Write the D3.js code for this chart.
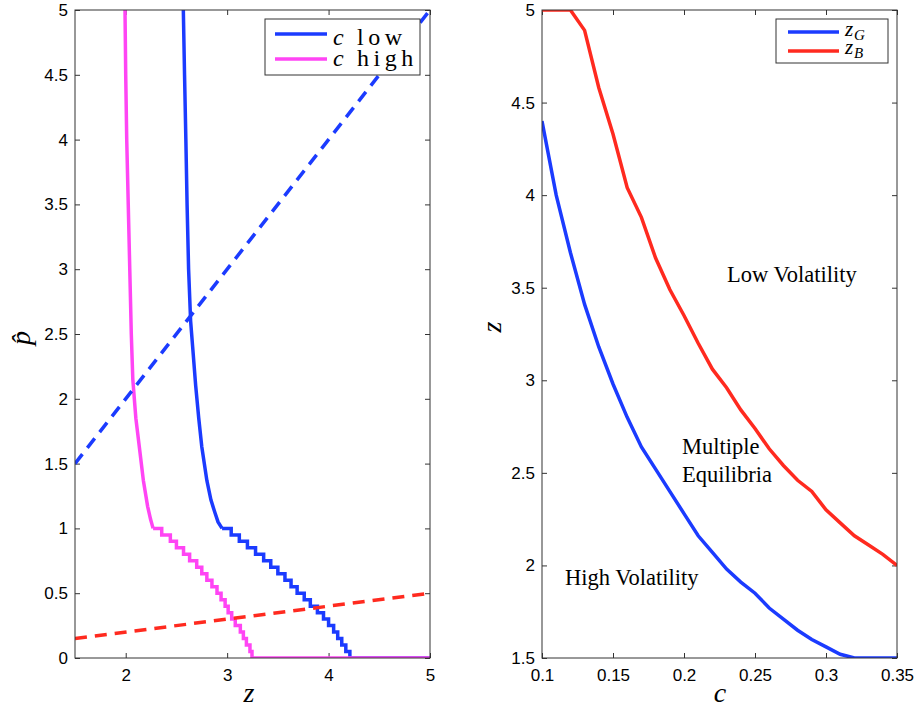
<!DOCTYPE html>
<html>
<head>
<meta charset="utf-8">
<script src="https://cdn.jsdelivr.net/npm/d3@7"></script>
<style>
  body { margin: 0; background: #fff; }
  svg { display: block; }
  .tick text { font-family: "Liberation Sans", Arial, sans-serif; font-size: 17px; fill: #000; }
  .tick line { stroke: #333; }
  .lbl { font-family: "Liberation Serif", "Times New Roman", serif; fill: #000; }
</style>
</head>
<body>
<svg id="chart" width="917" height="708"></svg>
<script>
// ---------------- left panel: p-hat against z
const leftXTicks = [2, 3, 4, 5];
const leftYTicks = [0, 0.5, 1, 1.5, 2, 2.5, 3, 3.5, 4, 4.5, 5];

// smooth upper part of the curves, [z, p]
const cLowSmooth = [[2.568, 5], [2.58, 4.5], [2.593, 4], [2.605, 3.5], [2.62, 3], [2.64, 2.6], [2.66, 2.4],
  [2.69, 2.1], [2.72, 1.85], [2.75, 1.63], [2.8, 1.37], [2.84, 1.22], [2.88, 1.12], [2.91, 1.05], [2.95, 1.0]];
const cHighSmooth = [[1.993, 5], [2.0, 4.5], [2.01, 4], [2.025, 3.5], [2.04, 3], [2.055, 2.5], [2.07, 2.15],
  [2.1, 1.85], [2.134, 1.63], [2.174, 1.37], [2.216, 1.17], [2.245, 1.07], [2.27, 1.0]];

// staircase part below p = 1
const stepP = [1.0, 0.95, 0.9, 0.85, 0.8, 0.75, 0.7, 0.65, 0.6, 0.55, 0.5, 0.45, 0.4, 0.35, 0.3, 0.25, 0.2, 0.15, 0.1, 0.05, 0.0];
const cLowStepZ = [2.95, 3.04, 3.12, 3.2, 3.28, 3.36, 3.43, 3.5, 3.57, 3.63, 3.69, 3.76, 3.82, 3.89, 3.95, 4.0, 4.05, 4.09, 4.13, 4.17, 4.21];
const cHighStepZ = [2.27, 2.355, 2.44, 2.5, 2.57, 2.63, 2.7, 2.75, 2.8, 2.85, 2.9, 2.94, 2.98, 3.01, 3.045, 3.08, 3.13, 3.16, 3.19, 3.225, 3.245];

// dashed reference lines, [z, p]
const blueDash = [[1.5, 1.5], [5, 5]];
const redDash = [[1.5, 0.15], [5, 0.5]];

// ---------------- right panel: z thresholds against c
const cVals = [0.10, 0.11, 0.12, 0.13, 0.14, 0.15, 0.16, 0.17, 0.18, 0.19, 0.20, 0.21, 0.22,
  0.23, 0.24, 0.25, 0.26, 0.27, 0.28, 0.29, 0.30, 0.31, 0.32, 0.33, 0.34, 0.35];
const zG = [4.40, 4.00, 3.69, 3.41, 3.18, 2.98, 2.80, 2.64, 2.52, 2.40, 2.28, 2.16, 2.07,
  1.98, 1.91, 1.85, 1.77, 1.71, 1.65, 1.60, 1.56, 1.52, 1.50, 1.50, 1.50, 1.50];
const zB = [5.00, 5.00, 5.00, 4.89, 4.58, 4.33, 4.04, 3.88, 3.66, 3.49, 3.35, 3.20, 3.06,
  2.96, 2.84, 2.74, 2.63, 2.54, 2.46, 2.40, 2.30, 2.23, 2.16, 2.11, 2.06, 2.00];
const rightXTicks = [0.1, 0.15, 0.2, 0.25, 0.3, 0.35];
const rightYTicks = [1.5, 2, 2.5, 3, 3.5, 4, 4.5, 5];

const regionText = ["Low Volatility", "Multiple", "Equilibria", "High Volatility"];
const regionC = [0.2303, 0.1986, 0.1986, 0.1162];
const regionZ = [3.53, 2.60, 2.45, 1.894];

const BLUE = "#1b3bff", MAGENTA = "#ff45f4", RED = "#ff2a1f";

const svg = d3.select("#chart");
const fmt = d3.format("~g");

function panel(x0, x1, y0, y1, xDom, yDom, xt, yt, id) {
  const x = d3.scaleLinear().domain(xDom).range([x0, x1]);
  const y = d3.scaleLinear().domain(yDom).range([y1, y0]);
  const g = svg.append("g");

  g.append("clipPath").attr("id", id).append("rect")
    .attr("x", x0).attr("y", y0).attr("width", x1 - x0).attr("height", y1 - y0);

  g.append("g").attr("transform", `translate(0,${y1})`)
    .call(d3.axisBottom(x).tickValues(xt).tickSize(-5).tickPadding(11).tickFormat(fmt))
    .call(a => a.select(".domain").remove());
  g.append("g").attr("transform", `translate(0,${y0})`)
    .call(d3.axisTop(x).tickValues(xt).tickSize(-5).tickFormat(""))
    .call(a => a.select(".domain").remove());
  g.append("g").attr("transform", `translate(${x0},0)`)
    .call(d3.axisLeft(y).tickValues(yt).tickSize(-5).tickPadding(7).tickFormat(fmt))
    .call(a => a.select(".domain").remove());
  g.append("g").attr("transform", `translate(${x1},0)`)
    .call(d3.axisRight(y).tickValues(yt).tickSize(-5).tickFormat(""))
    .call(a => a.select(".domain").remove());

  g.selectAll(".tick text").attr("font-family", null).attr("font-size", null);

  const plot = g.append("g").attr("clip-path", `url(#${id})`);
  g.append("rect").attr("x", x0).attr("y", y0).attr("width", x1 - x0).attr("height", y1 - y0)
    .attr("fill", "none").attr("stroke", "#333").attr("stroke-width", 1);
  return { x, y, g, plot };
}

// ---------------- left
const L = panel(75, 430, 10, 658, [1.5, 5], [0, 5], leftXTicks, leftYTicks, "clipL");
const lineL = d3.line().x(d => L.x(d[0])).y(d => L.y(d[1]));
const stepL = d3.line().x(d => L.x(d[0])).y(d => L.y(d[1])).curve(d3.curveStepAfter);

function drawCurve(smooth, stepZ, color) {
  L.plot.append("path").datum(smooth).attr("d", lineL)
    .attr("fill", "none").attr("stroke", color).attr("stroke-width", 3.5);
  const pts = stepZ.map((z, i) => [z, stepP[i]]).concat([[5, 0]]);
  L.plot.append("path").datum(pts).attr("d", stepL)
    .attr("fill", "none").attr("stroke", color).attr("stroke-width", 3.5);
}
drawCurve(cLowSmooth, cLowStepZ, BLUE);
drawCurve(cHighSmooth, cHighStepZ, MAGENTA);

L.plot.append("path").datum(blueDash).attr("d", lineL)
  .attr("fill", "none").attr("stroke", BLUE).attr("stroke-width", 3.5).attr("stroke-dasharray", "12,8");
L.plot.append("path").datum(redDash).attr("d", lineL)
  .attr("fill", "none").attr("stroke", RED).attr("stroke-width", 3.5).attr("stroke-dasharray", "12,8");

// left legend
const legL = L.g.append("g");
legL.append("rect").attr("x", 265).attr("y", 19).attr("width", 155).attr("height", 56)
  .attr("fill", "#fff").attr("stroke", "#333").attr("stroke-width", 1);
[["low", BLUE, 34, 45], ["high", MAGENTA, 59, 66]].forEach(([t, col, ly, ty]) => {
  legL.append("line").attr("x1", 275).attr("x2", 327).attr("y1", ly).attr("y2", ly)
    .attr("stroke", col).attr("stroke-width", 3.5);
  legL.append("text").attr("class", "lbl").attr("x", 333).attr("y", ty).attr("font-size", 24)
    .attr("font-style", "italic").text("c");
  legL.append("text").attr("class", "lbl").attr("x", 357).attr("y", ty).attr("font-size", 24)
    .attr("letter-spacing", 4.5).text(t);
});

L.g.append("text").attr("class", "lbl").attr("x", 249).attr("y", 702)
  .attr("text-anchor", "middle").attr("font-size", 28).attr("font-style", "italic").text("z");
L.g.append("text").attr("class", "lbl").attr("transform", "translate(30,338) rotate(-90)")
  .attr("text-anchor", "middle").attr("font-size", 28).attr("font-style", "italic").text("p\u0302");

// ---------------- right
const R = panel(542, 897, 10, 658, [0.1, 0.35], [1.5, 5], rightXTicks, rightYTicks, "clipR");
const lineR = d3.line().x(d => R.x(d[0])).y(d => R.y(d[1]));
R.plot.append("path").datum(cVals.map((c, i) => [c, zG[i]])).attr("d", lineR)
  .attr("fill", "none").attr("stroke", BLUE).attr("stroke-width", 3.5);
R.plot.append("path").datum(cVals.map((c, i) => [c, zB[i]])).attr("d", lineR)
  .attr("fill", "none").attr("stroke", RED).attr("stroke-width", 3.5);

regionText.forEach((t, i) => {
  R.g.append("text").attr("class", "lbl").attr("x", R.x(regionC[i])).attr("y", R.y(regionZ[i]))
    .attr("font-size", 22.5).text(t);
});

const legR = R.g.append("g");
legR.append("rect").attr("x", 776).attr("y", 19).attr("width", 112).attr("height", 44)
  .attr("fill", "#fff").attr("stroke", "#333").attr("stroke-width", 1);
[["G", BLUE, 32, 36], ["B", RED, 51, 54]].forEach(([s, col, ly, ty]) => {
  legR.append("line").attr("x1", 788).attr("x2", 839).attr("y1", ly).attr("y2", ly)
    .attr("stroke", col).attr("stroke-width", 3.5);
  legR.append("text").attr("class", "lbl").attr("x", 845).attr("y", ty)
    .attr("font-size", 21).attr("font-style", "italic").text("z");
  legR.append("text").attr("class", "lbl").attr("x", 854).attr("y", ty + 4)
    .attr("font-size", 15).attr("font-style", "italic").text(s);
});

R.g.append("text").attr("class", "lbl").attr("x", 720).attr("y", 702)
  .attr("text-anchor", "middle").attr("font-size", 28).attr("font-style", "italic").text("c");
R.g.append("text").attr("class", "lbl").attr("transform", "translate(501,327) rotate(-90)")
  .attr("text-anchor", "middle").attr("font-size", 28).attr("font-style", "italic").text("z");
</script>
</body>
</html>
